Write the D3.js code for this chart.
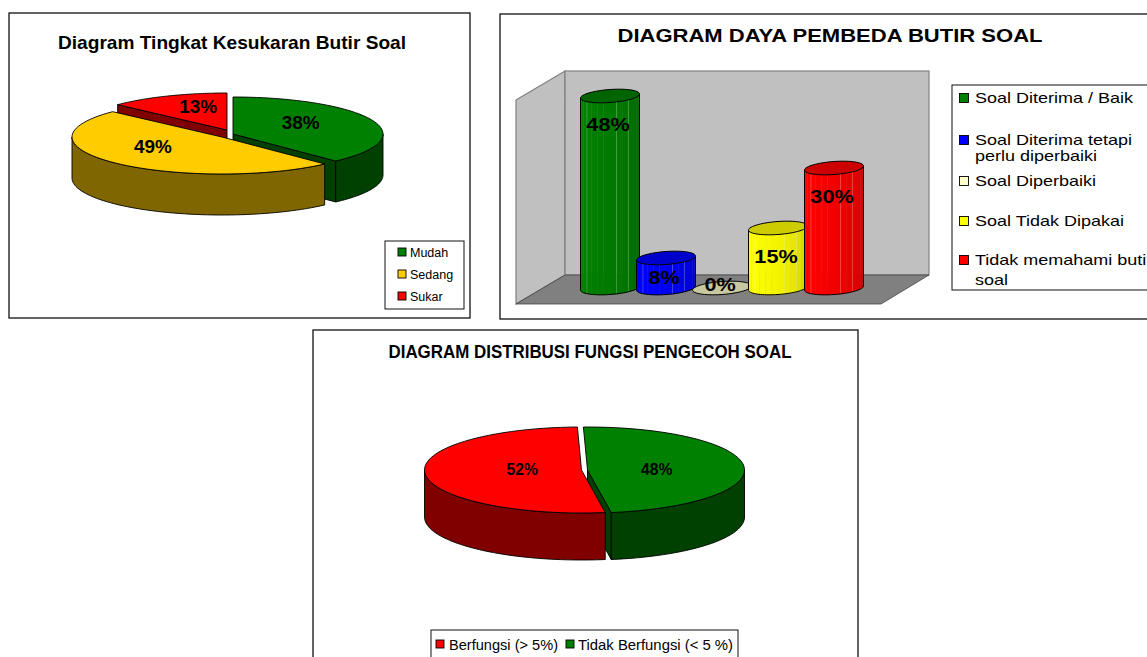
<!DOCTYPE html>
<html>
<head>
<meta charset="utf-8">
<style>
	body { margin: 0; padding: 0; background: #fff; overflow: hidden; }
	svg { display: block; }
	text { font-family: "Liberation Sans", Arial, sans-serif; fill: #000; }
</style>
<script src="https://cdnjs.cloudflare.com/ajax/libs/d3/7.8.5/d3.min.js"></script>
</head>
<body>
<svg width="1147" height="657"></svg>
<script>
	// chart 1
	const levelNames = ['Mudah', 'Sedang', 'Sukar'];
	const levelValues = [38, 49, 13];
	const levelColors = ['#008000', '#ffcc00', '#ff0000'];
	const levelSides = ['#004000', '#806600', '#800000'];

	// chart 2
	const powerNames = ['Soal Diterima / Baik', 'Soal Diterima tetapi|perlu diperbaiki', 'Soal Diperbaiki', 'Soal Tidak Dipakai', 'Tidak memahami butir|soal'];
	const powerValues = [48, 7.5, 0, 15, 30];
	const powerColors = ['#008000', '#0000ff', '#ffffcc', '#ffff00', '#ff0000'];
	const powerTops = ['#006400', '#0000cc', '#c8c8a0', '#cccc00', '#cc0000'];

	// chart 3
	const functionNames = ['Berfungsi (> 5%)', 'Tidak Berfungsi (< 5 %)'];
	const functionValues = [52, 48];
	const functionColors = ['#ff0000', '#008000'];
	const functionSides = ['#800000', '#004000'];

	const svg = d3.select('svg');
	const line = d3.line();
	const deg = Math.PI / 180;

	function panel(x, y, w, h) {
		svg.append('rect').attr('x', x).attr('y', y).attr('width', w).attr('height', h)
			.attr('fill', '#fff').attr('stroke', '#111').attr('stroke-width', 1.3);
	}

	function title(txt, x, y, size, width) {
		svg.append('text').text(txt).attr('x', x).attr('y', y)
			.attr('text-anchor', 'middle').attr('font-size', size).attr('font-weight', 'bold')
			.attr('textLength', width).attr('lengthAdjust', 'spacingAndGlyphs');
	}

	function stretch(sel, f) {
		sel.each(function() {
			d3.select(this).attr('textLength', this.getComputedTextLength() * f)
				.attr('lengthAdjust', 'spacingAndGlyphs');
		});
	}

	function swatch(x, y, color, size) {
		svg.append('rect').attr('x', x).attr('y', y).attr('width', size).attr('height', size)
			.attr('fill', color).attr('stroke', '#000').attr('stroke-width', 0.9);
	}

	/* 3D pie: angles come from d3.pie, then get flattened on to an ellipse */
	function pie3d(o) {
		const slices = d3.pie().sort(null)
			.startAngle(o.start).endAngle(o.start + 2 * Math.PI)(o.values);
		const g = svg.append('g').attr('stroke', '#000').attr('stroke-width', 0.9).attr('stroke-linejoin', 'round');

		o.order.forEach(i => {
			const s = slices[i];
			const cx = o.cx + o.offsets[i][0], cy = o.cy + o.offsets[i][1];
			const pt = (a, drop) => [cx + o.rx * Math.sin(a), cy - o.ry * Math.cos(a) + (drop || 0)];
			const arc = (a0, a1, drop) => d3.range(0, 61).map(k => pt(a0 + (a1 - a0) * k / 60, drop));
			const face = a => line([[cx, cy], pt(a), pt(a, o.depth), [cx, cy + o.depth]]) + 'Z';

			// cut faces, only the ones turned towards us
			if (Math.sin(s.startAngle) < -0.05) g.append('path').attr('d', face(s.startAngle)).attr('fill', o.sides[i]);
			if (Math.sin(s.endAngle) > 0.05) g.append('path').attr('d', face(s.endAngle)).attr('fill', o.sides[i]);

			// outer wall, front half of the ellipse only
			[0, 1].forEach(k => {
				const a0 = Math.max(s.startAngle, Math.PI / 2 + 2 * Math.PI * k);
				const a1 = Math.min(s.endAngle, 3 * Math.PI / 2 + 2 * Math.PI * k);
				if (a1 > a0) {
					g.append('path').attr('d', line(arc(a0, a1).concat(arc(a1, a0, o.depth))) + 'Z').attr('fill', o.sides[i]);
				}
			});

			g.append('path').attr('d', line([[cx, cy]].concat(arc(s.startAngle, s.endAngle))) + 'Z').attr('fill', o.colors[i]);
		});

		slices.forEach((s, i) => {
			const mid = (s.startAngle + s.endAngle) / 2;
			const t = svg.append('text').text(o.values[i] + '%')
				.attr('x', o.cx + o.offsets[i][0] + 0.5 * o.rx * Math.sin(mid) + o.nudge[i][0])
				.attr('y', o.cy + o.offsets[i][1] - 0.5 * o.ry * Math.cos(mid) + o.nudge[i][1])
				.attr('text-anchor', 'middle').attr('font-size', o.labelSize).attr('font-weight', 'bold');
			stretch(t, o.labelStretch);
		});
	}

	/* ---- chart 1 ---- */
	panel(9, 13, 461, 305);
	title('Diagram Tingkat Kesukaran Butir Soal', 232, 49, 18.5, 348);
	pie3d({
		values: levelValues, colors: levelColors, sides: levelSides,
		start: 0, order: [2, 0, 1],
		cx: 227, cy: 134, rx: 150, ry: 37, depth: 41,
		offsets: [[6, 0], [-5, 3], [0, -4]],
		nudge: [[-2, 2], [-16, 3], [1, 0]],
		labelSize: 18, labelStretch: 1.05
	});
	svg.append('rect').attr('x', 385).attr('y', 241).attr('width', 79).attr('height', 68)
		.attr('fill', '#fff').attr('stroke', '#111').attr('stroke-width', 1);
	levelNames.forEach((n, i) => {
		swatch(398, 248 + i * 22, levelColors[i], 8);
		svg.append('text').text(n).attr('x', 410).attr('y', 257 + i * 22).attr('font-size', 12.5).attr('fill', '#222');
	});

	/* ---- chart 2 ---- */
	panel(500, 14, 660, 305);
	title('DIAGRAM DAYA PEMBEDA BUTIR SOAL', 830, 42, 18, 425);

	const x = d3.scaleBand().domain(d3.range(powerValues.length)).range([582, 862]);
	const y = d3.scaleLinear().domain([0, 50]).range([288, 88]);

	// room: left wall, back wall, floor
	const wallTop = y(54.25), floorBack = 275, floorFront = 304;
	const roomL = 516, roomB = 565, roomR = 929, roomF = 881;
	svg.append('path').attr('d', line([[roomL, wallTop + 29], [roomB, wallTop], [roomB, floorBack], [roomL, floorFront]]) + 'Z')
		.attr('fill', '#c0c0c0').attr('stroke', '#808080').attr('stroke-width', 1.2);
	svg.append('rect').attr('x', roomB).attr('y', wallTop).attr('width', roomR - roomB).attr('height', floorBack - wallTop)
		.attr('fill', '#c0c0c0').attr('stroke', '#808080').attr('stroke-width', 1.2);
	svg.append('path').attr('d', line([[roomL, floorFront], [roomB, floorBack], [roomR, floorBack], [roomF, floorFront]]) + 'Z')
		.attr('fill', '#808080').attr('stroke', '#444').attr('stroke-width', 0.8);

	const rx = 29.5, ry = 6.5, skew = -0.07, facets = 14;
	const bars = svg.append('g').attr('stroke-linejoin', 'round');
	powerValues.forEach((v, i) => {
		const cx = x(i) + x.bandwidth() / 2;
		const pt = (a, cy) => [cx + rx * Math.cos(a), cy + ry * Math.sin(a) + skew * rx * Math.cos(a)];
		const shade = d3.interpolateRgb(powerColors[i], d3.rgb(powerColors[i]).darker(0.7));
		if (v > 0) {
			d3.range(facets).forEach(k => {
				const a0 = Math.PI * k / facets, a1 = Math.PI * (k + 1) / facets;
				const c = shade(Math.pow(1 - k / facets, 2.5));
				bars.append('path')
					.attr('d', line([pt(a0, y(v)), pt(a1, y(v)), pt(a1, y(0)), pt(a0, y(0))]) + 'Z')
					.attr('fill', c).attr('stroke', c).attr('stroke-width', 0.4);
			});
			// thin lighter lines where the facets meet
			[4, 6, 11].forEach(k => {
				const a = Math.PI * k / facets;
				bars.append('path').attr('d', line([pt(a, y(v)), pt(a, y(0))]))
					.attr('stroke', '#fff').attr('stroke-opacity', 0.28).attr('stroke-width', 0.8);
			});
			const outline = d3.range(0, 41).map(k => pt(Math.PI * k / 40, y(0)));
			bars.append('path')
				.attr('d', line([pt(Math.PI, y(v))].concat(outline.reverse(), [pt(0, y(v))])))
				.attr('fill', 'none').attr('stroke', '#000').attr('stroke-width', 1);
		}
		bars.append('path')
			.attr('d', line(d3.range(0, 61).map(k => pt(2 * Math.PI * k / 60, y(v)))) + 'Z')
			.attr('fill', powerTops[i]).attr('stroke', '#000').attr('stroke-width', 1);
	});
	powerValues.forEach((v, i) => {
		const t = svg.append('text').text(Math.round(v) + '%')
			.attr('x', x(i) + x.bandwidth() / 2 - 2)
			.attr('y', y(v) + Math.min(35, 3 + v * 3))
			.attr('text-anchor', 'middle').attr('font-size', 18).attr('font-weight', 'bold');
		stretch(t, 1.2);
	});

	svg.append('rect').attr('x', 952).attr('y', 85).attr('width', 220).attr('height', 205)
		.attr('fill', '#fff').attr('stroke', '#111').attr('stroke-width', 1);
	const legendRows = [103, 145, 186, 226, 265];
	powerNames.forEach((n, i) => {
		swatch(959.5, legendRows[i] - 9.5, powerColors[i], 9);
		n.split('|').forEach((part, j) => {
			const t = svg.append('text').text(part).attr('x', 975).attr('y', legendRows[i] + j * (i === 1 ? 16 : 20))
				.attr('font-size', 14.5).attr('fill', '#222');
			stretch(t, 1.24);
		});
	});

	/* ---- chart 3 ---- */
	panel(313, 330, 545, 340);
	title('DIAGRAM DISTRIBUSI FUNGSI PENGECOH SOAL', 590, 357.5, 18, 403);
	pie3d({
		values: functionValues, colors: functionColors, sides: functionSides,
		start: 171.3 * deg, order: [1, 0],
		cx: 584.5, cy: 470, rx: 157, ry: 43, depth: 47,
		offsets: [[-3, 0], [3, 0]],
		nudge: [[19, 3], [-9, 7]],
		labelSize: 16.5, labelStretch: 0.95
	});
	svg.append('rect').attr('x', 431).attr('y', 630).attr('width', 307).attr('height', 34)
		.attr('fill', '#fff').attr('stroke', '#111').attr('stroke-width', 1);
	[436, 566].forEach((sx, i) => swatch(sx, 640, functionColors[i], 8));
	[449, 578].forEach((tx, i) => {
		svg.append('text').text(functionNames[i]).attr('x', tx).attr('y', 650).attr('font-size', 15.5).attr('fill', '#222')
			.attr('textLength', i === 0 ? 109 : 155).attr('lengthAdjust', 'spacingAndGlyphs');
	});
</script>
</body>
</html>
